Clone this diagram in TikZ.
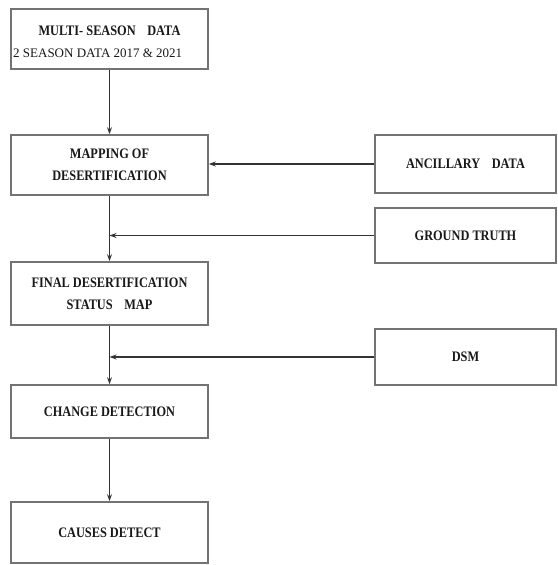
\documentclass[tikz,border=0pt]{standalone}
\usepackage{fontspec}
\setmainfont{Liberation Serif}
\newfontfamily\narrowbold{Liberation Serif}[FakeStretch=0.85,BoldFont={* Bold},BoldFeatures={FakeStretch=0.85}]
\usetikzlibrary{arrows.meta}
\begin{document}
\begin{tikzpicture}[x=1pt,y=-1pt,
  box/.style={draw=black!55, line width=1.6pt, inner sep=0pt, fill=white},
  lbl/.style={font=\narrowbold\bfseries\fontsize{14.5}{22}\selectfont, text=black!90, align=center, inner sep=0pt},
  sub/.style={font=\fontsize{13}{15}\selectfont, text=black!90, inner sep=0pt, anchor=west},
  conn/.style={draw=black!80, line width=1.5pt, -{Stealth[length=7pt,width=5pt]}}]
\useasboundingbox (0,0) rectangle (557,565);
% left column
\node[box, minimum width=197pt, minimum height=60pt] (b1) at (109.5,39) {};
\node[lbl, anchor=base] (t1) at (109.5,35) {MULTI- SEASON\hspace{0.8em}DATA};
\node[sub, anchor=base west] (t1b) at (13,57) {2 SEASON DATA 2017 \& 2021};
\node[box, lbl, minimum width=197pt, minimum height=60pt] (b2) at (109.5,165) {MAPPING OF\\DESERTIFICATION};
\node[box, lbl, minimum width=197pt, minimum height=63pt] (b3) at (109.5,293.5) {FINAL DESERTIFICATION\\STATUS\hspace{0.8em}MAP};
\node[box, lbl, minimum width=197pt, minimum height=53pt] (b4) at (109.5,411.5) {CHANGE DETECTION};
\node[box, lbl, minimum width=197pt, minimum height=61pt] (b5) at (109.5,532.5) {CAUSES DETECT};
% right column
\node[box, lbl, minimum width=181pt, minimum height=58pt] (anc) at (465.5,164) {ANCILLARY\hspace{0.8em}DATA};
\node[box, lbl, minimum width=181pt, minimum height=55pt] (gt) at (465.5,235.5) {GROUND TRUTH};
\node[box, lbl, minimum width=181pt, minimum height=56pt] (dsm) at (465.5,357) {DSM};
% junctions
\coordinate (j1) at (b2.south |- gt.west);
\coordinate (j2) at (b3.south |- dsm.west);
% connectors
\draw[conn] (b1) -- (b2);
\draw[conn] (b2) -- (b3);
\draw[conn] (b3) -- (b4);
\draw[conn] (b4) -- (b5);
\draw[conn] (anc.west) -- (b2.east |- anc.west);
\draw[conn] (gt.west) -- (j1);
\draw[conn] (dsm.west) -- (j2);
\end{tikzpicture}
\end{document}
